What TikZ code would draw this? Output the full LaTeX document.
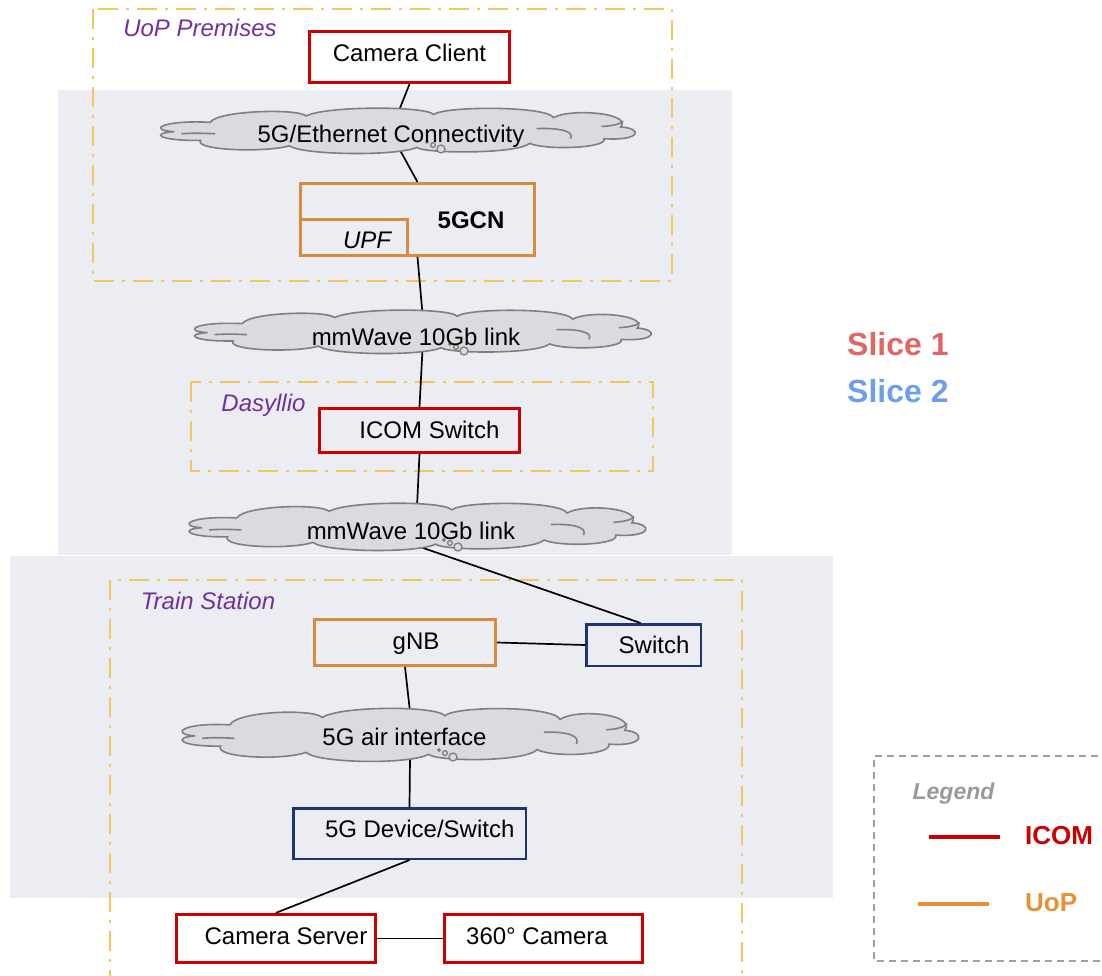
\documentclass[tikz,border=0pt]{standalone}
\usepackage{fontspec}
\setmainfont{Liberation Sans}
\definecolor{icomred}{HTML}{CC0000}
\definecolor{uoporange}{HTML}{D88A3F}
\definecolor{legorange}{HTML}{E69138}
\definecolor{navyblue}{HTML}{1C3473}
\definecolor{panelbg}{HTML}{ECEDF2}
\definecolor{framey}{HTML}{F2C75C}
\definecolor{lblpurple}{HTML}{7030A0}
\definecolor{cloudfill}{HTML}{DADBDF}
\definecolor{cloudedge}{HTML}{7F7F7F}
\definecolor{sliceone}{HTML}{E06666}
\definecolor{slicetwo}{HTML}{6D9EEB}
\definecolor{leggray}{HTML}{999999}
\definecolor{legborder}{HTML}{A0A0A0}

\newcommand\drawcloud[4]{%
\begin{scope}[shift={(#1,#2)},xscale=#3,yscale=#4]
 \filldraw[cloudline] (-0.93,0.05)
 .. controls (-1.04,0.0) and (-0.99,-0.45) .. (-0.78,-0.35)
 .. controls (-0.75,-0.85) and (-0.42,-0.95) .. (-0.38,-0.62)
 .. controls (-0.30,-1.05) and (0.12,-1.05) .. (0.15,-0.68)
 .. controls (0.20,-1.05) and (0.62,-1.05) .. (0.65,-0.55)
 .. controls (0.72,-0.95) and (0.98,-0.75) .. (0.93,-0.15)
 .. controls (1.02,-0.1) and (1.02,0.45) .. (0.86,0.35)
 .. controls (0.88,0.75) and (0.62,0.85) .. (0.55,0.55)
 .. controls (0.50,1.0) and (0.12,1.0) .. (0.08,0.72)
 .. controls (0.0,1.1) and (-0.40,1.05) .. (-0.45,0.65)
 .. controls (-0.55,0.95) and (-0.85,0.85) .. (-0.82,0.42)
 .. controls (-1.0,0.45) and (-1.03,0.10) .. (-0.93,0.05) -- cycle;
 \draw[cloudstroke] (-0.90,0.14) .. controls (-0.85,0.10) and (-0.80,0.12) .. (-0.76,0.14);
 \draw[cloudstroke] (0.58,-0.08) .. controls (0.68,-0.12) and (0.74,0.05) .. (0.72,0.35);
 \draw[cloudstroke] (0.85,-0.17) .. controls (0.90,-0.20) and (0.93,-0.28) .. (0.94,-0.40);
\end{scope}}

\newcommand\bubbles[2]{%
\begin{scope}[shift={(#1,#2)}]
 \filldraw[bubble] (0,0) circle (4pt);
 \filldraw[bubble] (-8,-4) circle (2.4pt);
 \filldraw[bubble] (-14,-7) circle (1.2pt);
\end{scope}}

\begin{document}
\begin{tikzpicture}[x=1pt,y=-1pt,
 redbox/.style={draw=icomred, line width=3.3pt, inner sep=0},
 orbox/.style={draw=uoporange, line width=3pt, inner sep=0},
 navybox/.style={draw=navyblue, line width=2.5pt, inner sep=0},
 txt/.style={font=\fontsize{24}{28}\selectfont, inner sep=0, anchor=base},
 region/.style={font=\fontsize{24}{28}\selectfont\itshape, text=lblpurple, inner sep=0, anchor=base},
 frame/.style={draw=framey, line width=2pt, dash pattern=on 20pt off 8pt on 3pt off 8pt},
 conn/.style={draw=black, line width=1.7pt},
 cloudarea/.style={inner sep=0, draw=none},
 cloudline/.style={draw=cloudedge, line width=1.6pt, fill=cloudfill},
 cloudstroke/.style={draw=cloudedge, line width=1.6pt},
 bubble/.style={draw=cloudedge, line width=1.3pt, fill=cloudfill},
 slicelbl/.style={font=\fontsize{32}{36}\selectfont\bfseries, inner sep=0, anchor=base west},
 leglbl/.style={font=\fontsize{26}{30}\selectfont\bfseries, inner sep=0, anchor=base west}]
\useasboundingbox (0,0) rectangle (1102,976);

% background panels
\fill[panelbg] (58,90) rectangle (732,555);
\fill[panelbg] (10,556) rectangle (833,898);

% region frames
\draw[frame] (93,9) rectangle (672,281);
\draw[frame] (191,382) rectangle (653,471);
\draw[frame] (110,990) -- (110,580) -- (742,580) -- (742,990);

% region labels
\node[region] (lbluop) at (200,37) {UoP Premises};
\node[region] (lbldas) at (263.5,411) {Dasyllio};
\node[region] (lbltrain) at (208,609) {Train Station};

% boxes
\node[redbox, minimum width=200pt, minimum height=51pt] (cc) at (409.5,57) {};
\node[orbox, minimum width=234pt, minimum height=72pt] (gcn) at (417.5,219.5) {};
\node[orbox, minimum width=107pt, minimum height=36pt] (upf) at (354,237.5) {};
\node[redbox, minimum width=200pt, minimum height=44pt] (ics) at (419.5,430.5) {};
\node[orbox, minimum width=181pt, minimum height=46pt] (gnb) at (405,642.5) {};
\node[navybox, minimum width=114.5pt, minimum height=41.5pt] (sw) at (643.5,645) {};
\node[navybox, minimum width=232.5pt, minimum height=50.5pt] (dev) at (409.5,833.5) {};
\node[redbox, minimum width=199pt, minimum height=48pt] (cs) at (276,938.5) {};
\node[redbox, minimum width=198pt, minimum height=48pt] (cam) at (543.5,938.5) {};

% cloud areas
\node[cloudarea, minimum width=479pt, minimum height=45pt] (cl1) at (397.5,130.5) {};
\node[cloudarea, minimum width=461pt, minimum height=43pt] (cl2) at (422.5,331.5) {};
\node[cloudarea, minimum width=462pt, minimum height=47pt] (cl3) at (417,526.5) {};
\node[cloudarea, minimum width=462pt, minimum height=53pt] (cl4) at (410,734.5) {};

% connectors
\draw[conn] (cc.south) -- ([xshift=1pt,yshift=-4pt]cl1.north);
\draw[conn] ([xshift=2pt,yshift=4pt]cl1.south) -- (gcn.north);
\draw[conn] (gcn.south) -- ([yshift=-4pt]cl2.north);
\draw[conn] ([yshift=4pt]cl2.south) -- (ics.north);
\draw[conn] (ics.south) -- ([yshift=-4pt]cl3.north);
\draw[conn] ([xshift=1pt,yshift=4pt]cl3.south) -- ([xshift=-3pt]sw.north);
\draw[conn] (gnb.east) -- (sw.west);
\draw[conn] (gnb.south) -- ([yshift=-4pt]cl4.north);
\draw[conn] ([yshift=4pt]cl4.south) -- (dev.north);
\draw[conn] (dev.south) -- (cs.north);
\draw[conn] (cs.east) -- (cam.west);

% clouds
\drawcloud{397.5}{130.5}{240}{23.5}
\bubbles{441}{149}
\drawcloud{422.5}{331.5}{231}{22.5}
\bubbles{464}{351}
\drawcloud{417}{526.5}{231}{24.5}
\bubbles{458}{547}
\drawcloud{410}{734.5}{231}{27.5}
\bubbles{453}{757}

% texts
\node[txt] (tcc) at (409.5,62) {Camera Client};
\node[txt] (tcl1) at (391,143) {5G/Ethernet Connectivity};
\node[txt, font=\fontsize{24}{28}\selectfont\bfseries] (tgcn) at (471,229) {5GCN};
\node[txt, font=\fontsize{24}{28}\selectfont\itshape] (tupf) at (367,248) {UPF};
\node[txt] (tcl2) at (416,345) {mmWave 10Gb link};
\node[txt] (tics) at (429.5,438) {ICOM Switch};
\node[txt] (tcl3) at (411,539) {mmWave 10Gb link};
\node[txt] (tgnb) at (416,649) {gNB};
\node[txt] (tsw) at (654,653) {Switch};
\node[txt] (tcl4) at (404.5,745) {5G air interface};
\node[txt] (tdev) at (419.7,837) {5G Device/Switch};
\node[txt] (tcs) at (286,944) {Camera Server};
\node[txt] (tcam) at (537,944) {360° Camera};

% slices
\node[slicelbl, text=sliceone] (s1) at (847,355) {Slice 1};
\node[slicelbl, text=slicetwo] (s2) at (847,402) {Slice 2};

% legend
\draw[draw=legborder, line width=1.5pt, dash pattern=on 7pt off 5pt] (1110,756) -- (874,756) -- (874,961) -- (1110,961);
\node[inner sep=0, anchor=base, font=\fontsize{23}{27}\selectfont\bfseries\itshape, text=leggray] (leg) at (953.5,799) {Legend};
\draw[icomred, line width=3.5pt] (929,837) -- (1000,837);
\node[leglbl, text=icomred] (licom) at (1025,844) {ICOM};
\draw[legorange, line width=3.5pt] (918,904) -- (989,904);
\node[leglbl, text=legorange] (luop) at (1025,911) {UoP};
\end{tikzpicture}
\end{document}
